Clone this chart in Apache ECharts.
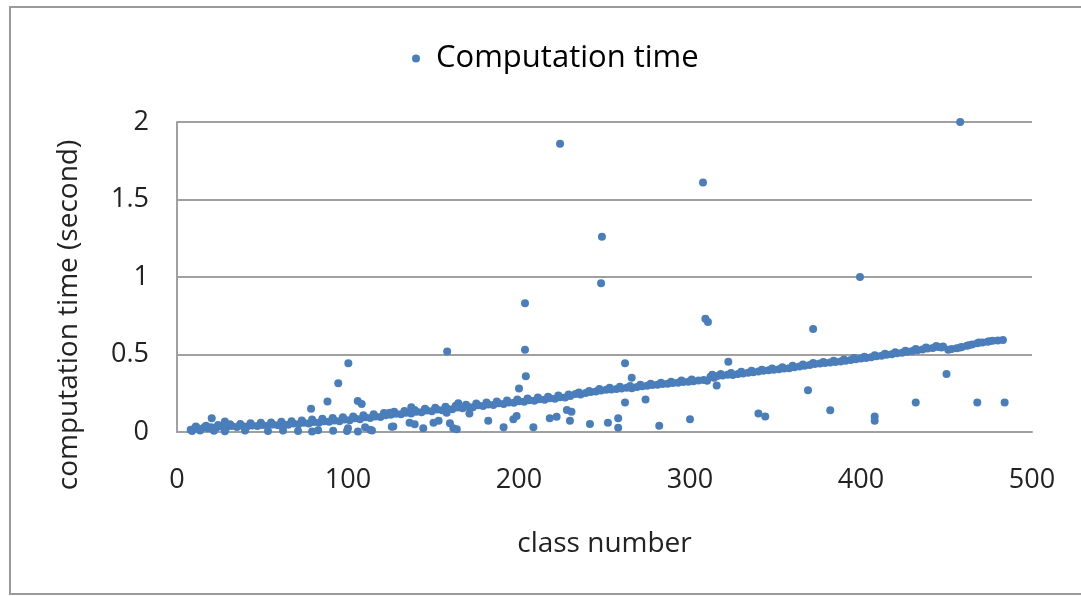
<!DOCTYPE html>
<html>
<head>
<meta charset="utf-8">
<script src="https://cdn.jsdelivr.net/npm/echarts@6/dist/echarts.min.js"></script>
<style>
html,body{margin:0;padding:0;background:#fff;overflow:hidden;}
#chart{width:1081px;height:596px;}
</style>
</head>
<body>
<div id="chart"></div>
<script>
// x-axis ticks / y-axis ticks
const xTicks = [0, 100, 200, 300, 400, 500];
const yTicks = [0, 0.5, 1, 1.5, 2];

// main band of points: [class number, computation time]
const bandPoints = [
[8,0.015],[10,0.02],[12,0.025],[14,0.02],[16,0.03],[18,0.025],[20,0.03],[23,0.028],[26,0.035],[29,0.03],
[32,0.038],[35,0.032],[38,0.04],[41,0.035],[44,0.042],[47,0.038],[50,0.045],[53,0.04],[56,0.048],[59,0.043],
[62,0.052],[65,0.047],[68,0.055],[71,0.05],[74,0.06],[77,0.055],[80,0.065],[83,0.06],[86,0.07],[89,0.066],
[92,0.075],[95,0.07],[98,0.08],[101,0.076],[104,0.088],[107,0.083],[110,0.095],[113,0.09],[116,0.1],[119,0.096],
[122,0.108],[125,0.112],[128,0.118],[131,0.115],[134,0.125],[137,0.12],[140,0.13],[143,0.127],[146,0.138],[149,0.134],
[152,0.145],[155,0.141],[158,0.15],[161,0.147],[164,0.158],[167,0.154],[170,0.165],[173,0.16],[176,0.172],[179,0.168],
[182,0.178],[185,0.175],[188,0.185],[191,0.181],[194,0.19],[197,0.188],[200,0.198],[203,0.195],[206,0.205],[209,0.202],
[212,0.212],[215,0.208],[218,0.218],[221,0.215],[224,0.225],[227,0.222],[230,0.232],[233,0.245],[236,0.242],[239,0.252],
[242,0.258],[245,0.262],[248,0.268],[251,0.272],[254,0.275],[257,0.278],[260,0.28],[263,0.285],[266,0.283],[269,0.29],
[272,0.295],[275,0.298],[278,0.303],[281,0.305],[284,0.31],[287,0.312],[290,0.316],[293,0.318],[296,0.322],[299,0.325],
[302,0.328],[305,0.332],[308,0.335],[310,0.33],[312,0.357],[314,0.35],[316,0.362],[319,0.365],[322,0.37],[325,0.368],
[328,0.375],[331,0.378],[334,0.382],[337,0.385],[340,0.39],[343,0.395],[346,0.398],[349,0.402],[352,0.405],[355,0.41],
[358,0.412],[361,0.418],[364,0.422],[367,0.428],[370,0.432],[373,0.438],[376,0.442],[379,0.445],[382,0.448],[385,0.452],
[388,0.455],[391,0.46],[394,0.465],[397,0.47],[400,0.475],[403,0.478],[406,0.482],[409,0.488],[412,0.492],[415,0.498],
[418,0.502],[421,0.508],[424,0.512],[427,0.518],[430,0.522],[433,0.528],[436,0.532],[439,0.538],[442,0.542],[445,0.548],
[448,0.552],[451,0.53],[456,0.54],[459,0.548],[462,0.556],[465,0.565],[468,0.572],[471,0.578],[474,0.583],[477,0.588],
[480,0.59],[483,0.594]
];

// extra points thickening the band
const bandExtra = [
[11,0.035],[17,0.04],[24,0.045],[31,0.05],[37,0.052],[43,0.056],[49,0.06],[55,0.062],[61,0.066],[67,0.07],
[73,0.075],[79,0.08],[85,0.085],[91,0.09],[97,0.095],[103,0.1],[109,0.108],[115,0.114],[121,0.122],[127,0.13],
[133,0.136],[139,0.142],[145,0.15],[151,0.157],[157,0.163],[163,0.17],[169,0.176],[175,0.184],[181,0.19],[187,0.196],
[193,0.203],[199,0.21],[205,0.216],[211,0.222],[217,0.228],[223,0.236],[229,0.242],[235,0.255],[241,0.265],[247,0.278],
[253,0.285],[259,0.292],[265,0.297],[271,0.305],[277,0.312],[283,0.318],[289,0.325],[295,0.332],[301,0.338],[313,0.37],
[318,0.375],[324,0.38],[330,0.388],[336,0.395],[342,0.402],[348,0.41],[354,0.418],[360,0.428],[366,0.436],[372,0.445],
[378,0.452],[384,0.46],[390,0.468],[396,0.478],[402,0.485],[408,0.495],[414,0.505],[420,0.515],[426,0.525],[432,0.535],
[438,0.545],[444,0.555],[447,0.545],[453,0.535],[458,0.545],[463,0.56],[469,0.578],[475,0.586]
];

// points below the band
const lowPoints = [
[8.8,0.006],[13.5,0.01],[21.6,0.008],[28,0.005],[39.8,0.009],[53.2,0.006],[62,0.01],[70.8,0.007],[79,0.004],[82.5,0.012],
[91.3,0.008],[99.4,0.006],[105.8,0.004],[114,0.01],[20.3,0.088],[28,0.067],[100,0.025],[110,0.03],[113,0.015],
[125.6,0.034],[126.5,0.035],[136,0.06],[139,0.05],[144,0.024],[150,0.06],[153,0.073],[159.6,0.056],[161.6,0.024],
[163.6,0.017],[171,0.12],[182,0.073],[191,0.03],[196.7,0.082],[198.6,0.103],[208.4,0.03],[218,0.088],[222,0.099],
[228,0.142],[230.7,0.131],[229.8,0.073],[241.5,0.052],[252,0.06],[258,0.088],[258,0.028],[262,0.19],[274,0.21],
[282,0.04],[300,0.082],[315.6,0.30],[340,0.12],[344,0.10],[369,0.27],[382,0.14],[408,0.10],[408,0.073],
[432,0.19],[450,0.374],[468,0.19],[484,0.19],[124.6,0.125],[137,0.16],[157.7,0.125],[164.5,0.185]
];

// points above the band
const highPoints = [
[458,2.0],[224,1.86],[248.5,1.26],[248,0.96],[307.6,1.61],[309,0.73],[310.5,0.71],[203.5,0.83],[203.5,0.53],
[158,0.52],[100.2,0.443],[94.3,0.314],[88,0.196],[78.4,0.15],[105.7,0.2],[108,0.18],[372,0.665],[399.4,1.0],
[262,0.443],[265.9,0.35],[322.4,0.454],[204,0.36],[200,0.28],[122.6,0.12]
];

const seriesName = 'Computation time';
const allPoints = bandPoints.concat(bandExtra, lowPoints, highPoints);

const chart = echarts.init(document.getElementById('chart'), null, {renderer: 'canvas'});
const font = '"Open Sans", "Liberation Sans", sans-serif';
chart.setOption({
  animation: false,
  backgroundColor: '#ffffff',
  graphic: [{
    type: 'polyline',
    shape: {points: [[1200, 7], [10, 7], [10, 594], [1200, 594]]},
    style: {fill: 'none', stroke: '#9a9a9a', lineWidth: 2},
    silent: true
  }],
  legend: {
    data: [seriesName],
    left: 407,
    top: 38,
    icon: 'circle',
    itemWidth: 30,
    itemHeight: 8,
    itemGap: 10,
    textStyle: {fontFamily: font, fontSize: 31, color: '#000'}
  },
  grid: {left: 177, right: 49, top: 122, bottom: 164, containLabel: false},
  xAxis: {
    type: 'value',
    min: xTicks[0], max: xTicks[xTicks.length - 1], interval: 100,
    name: 'class number',
    nameLocation: 'middle',
    nameGap: 98,
    nameTextStyle: {fontFamily: font, fontSize: 28, color: '#222'},
    axisLine: {show: true, lineStyle: {color: '#a0a0a0', width: 2}},
    axisTick: {show: false},
    splitLine: {show: false},
    axisLabel: {fontFamily: font, fontSize: 27, color: '#222', margin: 35}
  },
  yAxis: {
    type: 'value',
    min: yTicks[0], max: yTicks[yTicks.length - 1], interval: 0.5,
    name: 'computation time (second)',
    nameLocation: 'middle',
    nameGap: 94,
    nameTextStyle: {fontFamily: font, fontSize: 28, color: '#222', padding: [0, 76, 0, 0]},
    axisLine: {show: true, lineStyle: {color: '#a0a0a0', width: 2}},
    axisTick: {show: false},
    splitLine: {show: true, lineStyle: {color: '#a0a0a0', width: 2}},
    axisLabel: {fontFamily: font, fontSize: 27, color: '#222', margin: 28}
  },
  series: [{
    name: seriesName,
    type: 'scatter',
    symbol: 'circle',
    symbolSize: 8,
    itemStyle: {color: '#4a7ebb', opacity: 1},
    data: allPoints
  }]
});
</script>
</body>
</html>
